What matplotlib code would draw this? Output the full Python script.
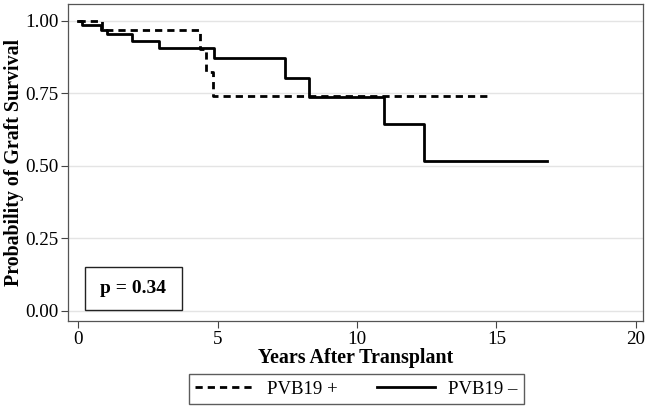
import matplotlib
matplotlib.use("Agg")
import matplotlib.pyplot as plt
from matplotlib.patches import Rectangle

# Kaplan-Meier step points
pos_time = [0, 0.86, 4.37, 4.57, 4.82, 14.65]
pos_surv = [1.0, 0.968, 0.902, 0.822, 0.740, 0.740]

neg_time = [0, 0.14, 0.81, 1.02, 1.92, 2.88, 4.87, 7.42, 8.29, 10.98, 12.40, 16.81]
neg_surv = [1.0, 0.986, 0.969, 0.953, 0.929, 0.905, 0.870, 0.803, 0.736, 0.645, 0.516, 0.516]

x_ticks = [0, 5, 10, 15, 20]
y_ticks = [0.0, 0.25, 0.5, 0.75, 1.0]
series_labels = ["PVB19 +", "PVB19 \u2013"]
p_text = "p = 0.34"

plt.rcParams['font.family'] = ['Liberation Serif', 'DejaVu Serif']

fig = plt.figure(figsize=(6.51, 4.09), dpi=100)
ax = fig.add_axes([0.1045, 0.2152, 0.8837, 0.775])

ax.step(pos_time, pos_surv, where='post', color='black', lw=2,
        dashes=(2.6, 1.8), label=series_labels[0])
ax.step(neg_time, neg_surv, where='post', color='black', lw=2,
        label=series_labels[1])

ax.set_xlim(-0.37, 20.27)
ax.set_ylim(-0.036, 1.058)
ax.set_xticks(x_ticks)
ax.set_yticks(y_ticks)
ax.set_yticklabels([f"{v:.2f}" for v in y_ticks])
ax.tick_params(labelsize=13.8, length=5, width=0.8, color='#444444', pad=2)
ax.yaxis.grid(True, color='#e4e4e4', lw=1)
ax.set_axisbelow(True)
for s in ax.spines.values():
    s.set_color('#555555')
    s.set_linewidth(0.9)

ax.set_xlabel("Years After Transplant", fontsize=14.4, fontweight='bold', labelpad=0)
ax.set_ylabel("Probability of Graft Survival", fontsize=14.3, fontweight='bold', labelpad=1)

# p-value box
ax.add_patch(Rectangle((0.0296, 0.0347), 0.168, 0.1363, transform=ax.transAxes,
                       fill=False, edgecolor='#222222', lw=1.0))
ax.text(0.1136, 0.103, p_text, transform=ax.transAxes, ha='center', va='center',
        fontsize=14, fontweight='bold')

leg = fig.legend(loc='lower center', bbox_to_anchor=(0.5476, 0.012), ncol=2,
                 fontsize=13.5, frameon=True, fancybox=False, handlelength=3.1,
                 handletextpad=0.7, columnspacing=2.1, borderpad=0.35,
                 borderaxespad=0)
leg.get_frame().set_edgecolor('#333333')
leg.get_frame().set_linewidth(1.0)

fig.savefig("out.png", dpi=100)
